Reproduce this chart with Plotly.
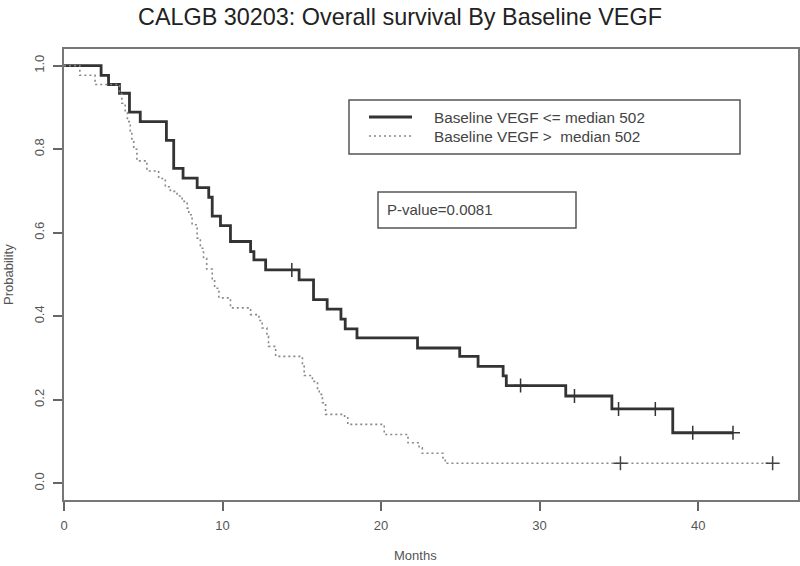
import plotly.graph_objects as go

# ---- data ----
low_times = [2.34, 2.81, 3.5, 4.13, 4.81, 6.46, 6.92, 7.51, 8.4, 9.13, 9.35, 9.87, 10.5,
             11.77, 11.98, 12.72, 14.83, 15.74, 16.6, 17.47, 17.74, 18.48, 22.3, 24.96,
             26.12, 27.7, 27.9, 31.65, 34.56, 38.4]
low_surv = [0.977, 0.955, 0.934, 0.889, 0.866, 0.821, 0.754, 0.731, 0.708, 0.685, 0.640,
            0.617, 0.579, 0.555, 0.535, 0.511, 0.487, 0.440, 0.417, 0.393, 0.370, 0.348,
            0.324, 0.304, 0.280, 0.257, 0.234, 0.209, 0.178, 0.121]
low_last = 42.2
low_cens_t = [14.37, 28.8, 32.2, 34.98, 37.3, 39.66, 42.2]
low_cens_s = [0.511, 0.234, 0.209, 0.178, 0.178, 0.121, 0.121]

high_times = [1.0, 1.96, 3.5, 3.65, 3.86, 4.0, 4.18, 4.28, 4.4, 4.6, 5.23, 5.97, 6.39, 6.71,
              7.13, 7.45, 7.77, 7.87, 8.08, 8.4, 8.6, 8.8, 9.0, 9.35, 9.5, 9.77, 10.5, 11.77,
              12.3, 12.5, 12.8, 12.9, 13.35, 15.04, 15.15, 15.67, 15.99, 16.1, 16.3, 16.5,
              17.7, 17.9, 20.2, 21.7, 22.4, 22.6, 23.9, 24.05]
high_surv = [0.977, 0.955, 0.932, 0.910, 0.888, 0.866, 0.844, 0.822, 0.800, 0.772, 0.748,
             0.730, 0.710, 0.699, 0.688, 0.675, 0.659, 0.643, 0.619, 0.587, 0.563, 0.539,
             0.513, 0.487, 0.467, 0.444, 0.420, 0.404, 0.390, 0.372, 0.352, 0.328, 0.304,
             0.280, 0.258, 0.244, 0.225, 0.213, 0.193, 0.165, 0.157, 0.141, 0.117, 0.097,
             0.085, 0.072, 0.061, 0.048]
high_last = 44.7
high_cens_t = [35.1, 44.7]
high_cens_s = [0.048, 0.048]

x_ticks = [0, 10, 20, 30, 40]
y_ticks = [0.0, 0.2, 0.4, 0.6, 0.8, 1.0]
y_tick_text = ["0.0", "0.2", "0.4", "0.6", "0.8", "1.0"]

title_text = "CALGB 30203: Overall survival By Baseline VEGF"
legend_labels = ["Baseline VEGF <= median 502", "Baseline VEGF >  median 502"]
pvalue_text = "P-value=0.0081"

# ---- layout geometry (pixels) ----
W, H = 800, 566
L, R, T, B = 64, 798, 49, 500
FONT = "Liberation Sans, Arial, sans-serif"


def px(x):
    return (x - L) / (R - L)


def py(y):
    return (B - y) / (B - T)


fig = go.Figure()

fig.add_trace(go.Scatter(
    x=[0] + low_times + [low_last],
    y=[1.0] + low_surv + [low_surv[-1]],
    mode="lines", line=dict(shape="hv", color="#333333", width=2.8),
    showlegend=False, hoverinfo="skip"))
fig.add_trace(go.Scatter(
    x=[0] + high_times + [high_last],
    y=[1.0] + high_surv + [high_surv[-1]],
    mode="lines", line=dict(shape="hv", color="#888888", width=1.6, dash="2px,3px"),
    showlegend=False, hoverinfo="skip"))
fig.add_trace(go.Scatter(
    x=low_cens_t, y=low_cens_s, mode="markers",
    marker=dict(symbol="cross-thin", size=10, line=dict(color="#333333", width=1.5)),
    showlegend=False, hoverinfo="skip"))
fig.add_trace(go.Scatter(
    x=high_cens_t, y=high_cens_s, mode="markers",
    marker=dict(symbol="cross-thin", size=10, line=dict(color="#444444", width=1.5)),
    showlegend=False, hoverinfo="skip"))

shapes = [
    # legend box
    dict(type="rect", xref="paper", yref="paper", x0=px(349), x1=px(740), y0=py(154), y1=py(100),
         line=dict(color="#555555", width=1.5)),
    dict(type="line", xref="paper", yref="paper", x0=px(369), x1=px(412), y0=py(117), y1=py(117),
         line=dict(color="#333333", width=2.8)),
    dict(type="line", xref="paper", yref="paper", x0=px(369), x1=px(412), y0=py(136), y1=py(136),
         line=dict(color="#888888", width=1.6, dash="2px,3px")),
    # p-value box
    dict(type="rect", xref="paper", yref="paper", x0=px(378), x1=px(576), y0=py(228), y1=py(192),
         line=dict(color="#555555", width=1.5)),
]

annotations = [
    dict(text=legend_labels[0], xref="paper", yref="paper", x=px(432), y=py(118),
         xanchor="left", yanchor="middle", showarrow=False, font=dict(size=15.3, color="#444444", family=FONT)),
    dict(text=legend_labels[1], xref="paper", yref="paper", x=px(432), y=py(137),
         xanchor="left", yanchor="middle", showarrow=False, font=dict(size=15.3, color="#444444", family=FONT)),
    dict(text=pvalue_text, xref="paper", yref="paper", x=px(385), y=py(210),
         xanchor="left", yanchor="middle", showarrow=False, font=dict(size=15, color="#444444", family=FONT)),
    dict(text="Probability", xref="paper", yref="paper", x=px(8), y=py(275), textangle=-90,
         xanchor="center", yanchor="middle", showarrow=False, font=dict(size=13, color="#555555", family=FONT)),
    dict(text="Months", xref="paper", yref="paper", x=px(415), y=py(555),
         xanchor="center", yanchor="middle", showarrow=False, font=dict(size=13, color="#555555", family=FONT)),
]

fig.update_layout(
    width=W, height=H,
    margin=dict(l=L, r=W - R, t=T, b=H - B, pad=0, autoexpand=False),
    paper_bgcolor="white", plot_bgcolor="white",
    title=dict(text=title_text, x=0.5, xref="container", xanchor="center",
               y=1 - 17 / H, yref="container", yanchor="middle",
               font=dict(size=23.4, color="#222222", family=FONT)),
    shapes=shapes, annotations=annotations,
    xaxis=dict(range=[0, 46.3], tickvals=x_ticks, ticks="outside", ticklen=9, tickwidth=1.5,
               tickcolor="#666666", showline=True, linecolor="#777777", linewidth=1.5, mirror=True,
               showgrid=False, zeroline=False, ticklabelstandoff=4, automargin=False,
               tickfont=dict(size=13, color="#555555", family=FONT)),
    yaxis=dict(range=[-0.04, 1.04], tickvals=y_ticks, ticktext=y_tick_text, ticks="outside",
               ticklen=9, tickwidth=1.5, tickcolor="#666666", showline=True, linecolor="#777777",
               linewidth=1.5, mirror=True, showgrid=False, zeroline=False, tickangle=-90,
               ticklabelstandoff=4, automargin=False,
               tickfont=dict(size=13, color="#555555", family=FONT)),
)

fig.write_html("out.html", config={"displayModeBar": False},
               post_script="document.body.style.margin='0';document.body.style.overflow='hidden';")
